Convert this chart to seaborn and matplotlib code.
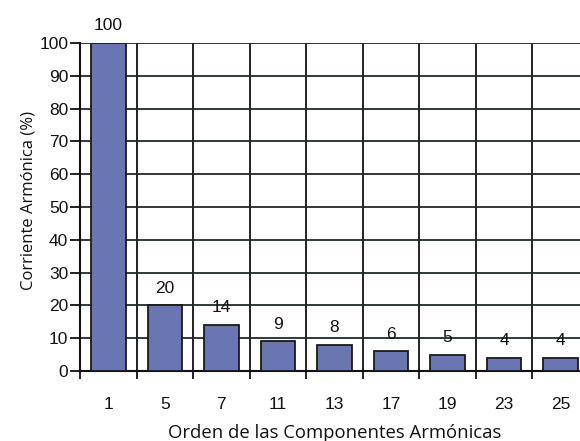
import matplotlib
matplotlib.use("Agg")
import matplotlib.pyplot as plt
import seaborn as sns
import pandas as pd
import numpy as np

# Harmonic orders and their current as a percentage of the fundamental
orders = ["1", "5", "7", "11", "13", "17", "19", "23", "25"]
current_pct = [100, 20, 14, 9, 8, 6, 5, 4, 4]
y_ticks = [0, 10, 20, 30, 40, 50, 60, 70, 80, 90, 100]

df = pd.DataFrame({"orden": orders, "corriente": current_pct})

sns.set_style("white")
plt.rcParams["font.family"] = ["Liberation Sans", "DejaVu Sans"]

fig = plt.figure(figsize=(5.8, 4.41), dpi=100)
ax = fig.add_axes([80 / 580, 1 - 371 / 441, 509 / 580, 328 / 441])

sns.barplot(data=df, x="orden", y="corriente", order=orders, ax=ax,
            color="#6A76B2", saturation=1, width=0.61,
            edgecolor="#1a1a1a", linewidth=1.3, zorder=3)

ax.set_ylim(0, 100)
ax.set_xlim(-0.5, len(orders) - 0.5)
ax.set_yticks(y_ticks)

# category boundaries carry the vertical grid lines
ax.set_xticks(np.arange(-0.5, len(orders), 1.0), minor=True)
ax.grid(True, axis="y", which="major", color="#1f2a2a", linewidth=1.3, zorder=0)
ax.grid(True, axis="x", which="minor", color="#111", linewidth=1.3, zorder=0)
ax.tick_params(axis="x", which="major", length=0, pad=18.5, labelsize=12.5,
               labelcolor="#111")
ax.tick_params(axis="x", which="minor", length=6, width=1.3, color="#111",
               direction="out", bottom=True)
ax.tick_params(axis="y", length=7, width=1.3, color="#111", direction="out",
               left=True, labelsize=12.5, pad=1.5, labelcolor="#111")

for side in ["top", "right"]:
    ax.spines[side].set_visible(False)
for side in ["left", "bottom"]:
    ax.spines[side].set_color("#111")
    ax.spines[side].set_linewidth(1.5)

for container in ax.containers:
    ax.bar_label(container, labels=[str(v) for v in current_pct],
                 padding=7, fontsize=12.5, color="#111")

ax.set_xlabel("Orden de las Componentes Armónicas", fontsize=13.3,
              family=["Open Sans", "DejaVu Sans"], labelpad=9, color="#111")
ax.set_ylabel("Corriente Armónica (%)", fontsize=12,
              family=["Open Sans", "DejaVu Sans"], color="#111")
ax.yaxis.set_label_coords(-43 / 509, 0.52)

fig.savefig("out.png", dpi=100)
